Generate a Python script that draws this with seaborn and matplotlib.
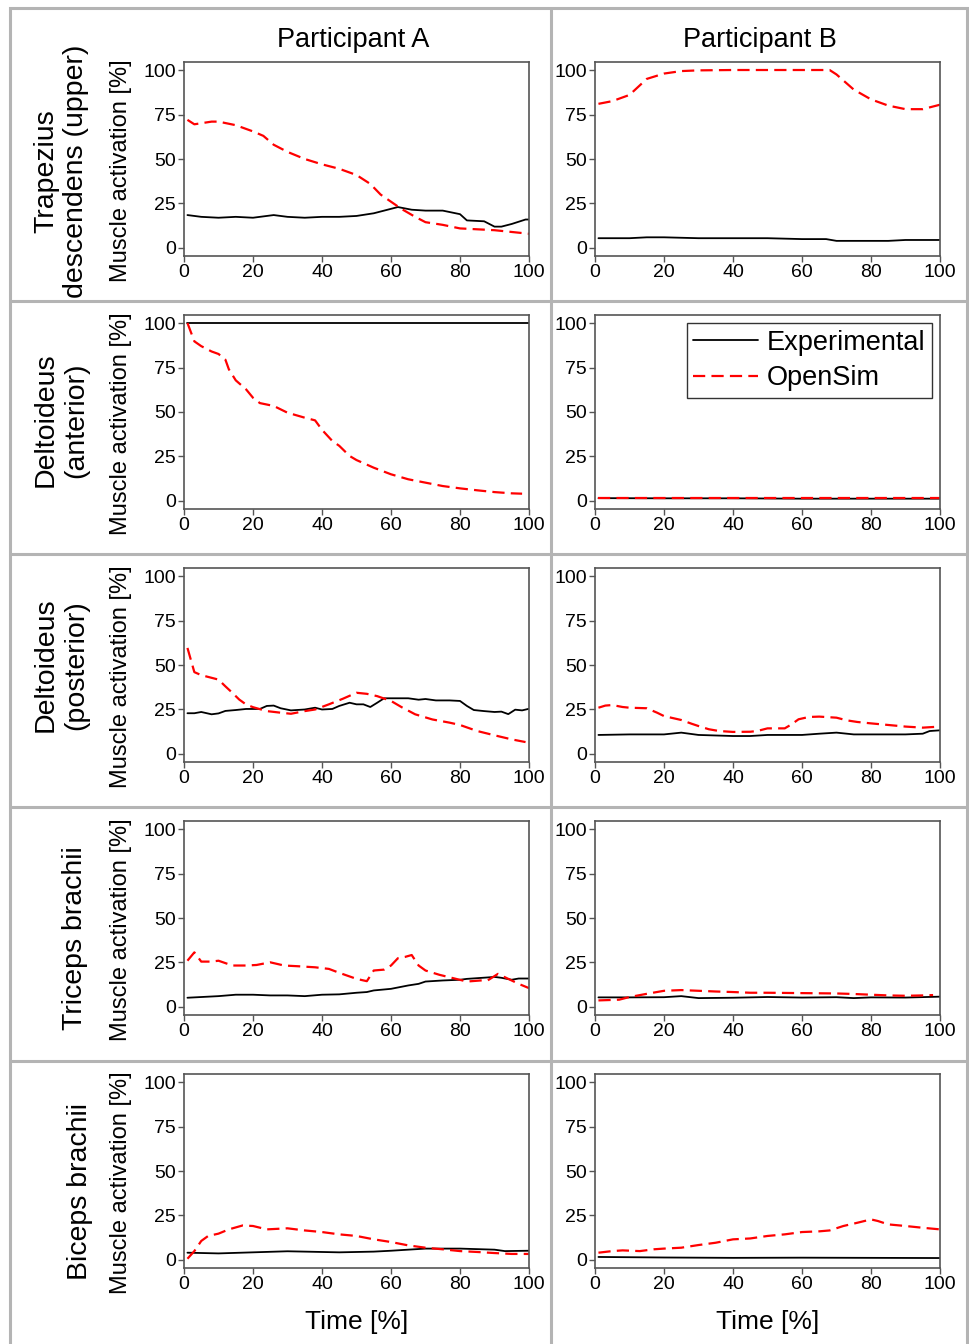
import numpy as np
import pandas as pd
import matplotlib
matplotlib.use("Agg")
import matplotlib.pyplot as plt
from matplotlib.lines import Line2D
from matplotlib.patches import Rectangle
import seaborn as sns

sns.set_theme(style="white")
plt.rcParams['font.family'] = ['Liberation Sans', 'DejaVu Sans']
plt.rcParams['text.color'] = 'black'
plt.rcParams['axes.labelcolor'] = 'black'

# ---------------- data ----------------
col_titles = ["Participant A", "Participant B"]
row_labels = ["Trapezius\ndescendens (upper)", "Deltoideus\n(anterior)",
              "Deltoideus\n(posterior)", "Triceps brachii", "Biceps brachii"]
x_ticks = [0, 20, 40, 60, 80, 100]
y_ticks = [0, 25, 50, 75, 100]

# Row 1: Trapezius descendens (upper)
tr_A_exp_t = [1, 5, 10, 15, 20, 26, 30, 35, 40, 45, 50, 55, 58, 62, 66, 70, 75, 80, 82, 87, 90, 92, 95, 99, 100]
tr_A_exp_v = [18.5, 17.5, 17, 17.5, 17, 18.5, 17.5, 17, 17.5, 17.5, 18, 19.5, 21, 23, 21.5, 21, 21, 19, 15.5, 15, 12, 12, 13.5, 16, 16]
tr_A_sim_t = [1, 3, 8, 10, 15, 20, 23, 26, 30, 35, 40, 45, 50, 54, 57, 60, 63, 67, 70, 75, 80, 85, 90, 95, 100]
tr_A_sim_v = [72, 69.5, 71, 71, 69, 65.5, 63, 58, 54, 50, 47, 44.5, 41, 36, 30, 26, 22, 17.5, 14.5, 13, 11, 10.5, 10, 9, 8]
tr_B_exp_t = [1, 10, 15, 20, 30, 40, 50, 60, 67, 70, 80, 85, 90, 100]
tr_B_exp_v = [5.5, 5.5, 6, 6, 5.5, 5.5, 5.5, 5, 5, 4, 4, 4, 4.5, 4.5]
tr_B_sim_t = [1, 5, 10, 15, 20, 25, 30, 40, 50, 60, 68, 70, 75, 80, 85, 90, 95, 100]
tr_B_sim_v = [81, 82.5, 86, 95, 98, 99.4, 99.8, 100, 100, 100, 100, 97.5, 89, 83.5, 80, 78, 78, 80.5]

# Row 2: Deltoideus (anterior)
da_A_exp_t = [1, 100]
da_A_exp_v = [100, 100]
da_A_sim_t = [1, 3, 5, 8, 10, 12, 13, 15, 18, 20, 22, 26, 30, 35, 38, 40, 43, 45, 48, 50, 55, 60, 65, 70, 75, 80, 85, 90, 95, 98]
da_A_sim_v = [100, 89.7, 87, 84, 82.6, 79.4, 74, 67.8, 62.7, 58, 55, 53.4, 49.6, 46.8, 45.3, 40, 33.7, 31, 25.3, 23, 18.7, 15, 12.2, 10.3, 8.4, 7.1, 6, 5, 4.3, 4.1]
da_B_exp_t = [1, 20, 40, 60, 80, 100]
da_B_exp_v = [1.6, 1.5, 1.5, 1.3, 1.3, 1.3]
da_B_sim_t = [1, 20, 40, 60, 80, 100]
da_B_sim_v = [1.6, 1.6, 1.6, 1.6, 1.6, 1.6]

# Row 3: Deltoideus (posterior)
dp_A_exp_t = [1, 3, 5, 8, 10, 12, 15, 18, 22, 24, 26, 28, 31, 35, 38, 40, 43, 45, 48, 50, 52, 54, 56, 58, 62, 65, 68, 70, 73, 77, 80, 82, 84, 87, 90, 92, 94, 96, 98, 100]
dp_A_exp_v = [22.9, 22.9, 23.6, 22.3, 22.8, 24.2, 24.7, 25.3, 25.3, 27, 27.2, 25.7, 24.5, 25, 26, 25, 25.3, 27, 28.8, 27.9, 27.9, 26.4, 28.8, 31.3, 31.3, 31.3, 30.5, 30.9, 30.1, 30.1, 29.8, 27, 24.7, 24.1, 23.6, 23.8, 22.4, 24.9, 24.5, 25.4]
dp_A_sim_t = [1, 3, 5, 8, 10, 12, 14, 16, 18, 20, 24, 28, 31, 35, 38, 42, 46, 50, 53, 56, 60, 63, 67, 72, 77, 80, 85, 90, 95, 99]
dp_A_sim_v = [59.6, 46, 44.3, 42.8, 41.8, 38, 34.4, 30.6, 27.8, 26.3, 24.1, 23.2, 22.6, 24.1, 25, 27.9, 31, 34.4, 33.8, 32.5, 29.8, 26.4, 22.3, 19.4, 17.6, 16.3, 12.9, 10.5, 8.2, 6.7]
dp_B_exp_t = [1, 10, 20, 25, 30, 40, 45, 50, 60, 65, 70, 75, 80, 90, 95, 97, 100]
dp_B_exp_v = [10.7, 11, 11, 12, 10.7, 10.1, 10.1, 10.7, 10.7, 11.4, 12, 11, 11, 11, 11.4, 12.9, 13.3]
dp_B_sim_t = [1, 3, 5, 8, 10, 15, 18, 20, 25, 28, 30, 33, 36, 40, 45, 47, 50, 55, 57, 59, 62, 65, 70, 73, 76, 80, 85, 90, 95, 100]
dp_B_sim_v = [26, 27.2, 27.5, 26.4, 26, 25.7, 23.2, 21.3, 19.1, 17, 15.7, 13.9, 12.9, 12.4, 12.5, 12.9, 14.4, 14.4, 16.7, 19.5, 20.8, 21, 20.4, 18.9, 18, 17.2, 16.3, 15.4, 14.8, 15.4]

# Row 4: Triceps brachii
tb_A_exp_t = [1, 10, 15, 20, 25, 30, 35, 40, 45, 50, 53, 55, 60, 65, 68, 70, 75, 80, 82, 85, 88, 90, 92, 95, 97, 100]
tb_A_exp_v = [5.2, 6.1, 6.9, 6.9, 6.5, 6.5, 6.1, 6.9, 7.1, 8, 8.4, 9.3, 10.2, 12.1, 13, 14.3, 14.9, 15.3, 15.8, 16.2, 16.6, 16.9, 16.4, 15.3, 16, 16]
tb_A_sim_t = [1, 3, 5, 8, 10, 14, 18, 21, 25, 29, 33, 38, 42, 45, 50, 53, 55, 58, 60, 62, 64, 66, 68, 70, 74, 78, 82, 86, 88, 91, 94, 97, 100]
tb_A_sim_v = [26, 30.7, 25.5, 25.5, 26, 23.3, 23.3, 23.6, 25.1, 23.3, 22.9, 22.3, 21.4, 19.2, 15.8, 14.5, 20.5, 21, 23.3, 27.4, 28.1, 29.2, 23.3, 20.5, 18.1, 16.2, 14.3, 14.9, 14.9, 18.6, 15.8, 13, 10.6]
tb_B_exp_t = [1, 10, 20, 25, 30, 40, 50, 60, 70, 75, 80, 90, 100]
tb_B_exp_v = [5.4, 5.4, 5.5, 6.1, 5, 5.2, 5.6, 5.3, 5.5, 5, 5.4, 5.3, 5.8]
tb_B_sim_t = [1, 7, 10, 15, 20, 25, 30, 35, 40, 45, 50, 60, 70, 75, 80, 85, 90, 95, 98]
tb_B_sim_v = [3.7, 4.1, 5.6, 7.4, 9.1, 9.5, 9.1, 8.7, 8.4, 8, 8, 7.8, 7.6, 7.3, 6.9, 6.5, 6.3, 6.5, 6.7]

# Row 5: Biceps brachii
bb_A_exp_t = [1, 10, 20, 30, 40, 45, 55, 60, 70, 80, 90, 93, 100]
bb_A_exp_v = [4.1, 3.7, 4.3, 4.9, 4.5, 4.3, 4.7, 5.2, 6.4, 6.4, 5.8, 5, 5.2]
bb_A_sim_t = [1, 3, 5, 7, 10, 13, 17, 20, 24, 30, 35, 40, 45, 50, 55, 60, 65, 70, 75, 80, 85, 90, 95, 100]
bb_A_sim_v = [0.7, 5, 10.7, 13.5, 14.8, 17.2, 19.4, 19.1, 17.2, 17.8, 16.6, 15.7, 14.4, 13.5, 11.6, 10.1, 8.2, 6.9, 6, 5, 4.5, 3.9, 3.4, 3.4]
bb_B_exp_t = [1, 20, 40, 60, 80, 100]
bb_B_exp_v = [1.7, 1.4, 1.2, 1.3, 1.2, 1.1]
bb_B_sim_t = [1, 5, 8, 13, 17, 20, 25, 30, 35, 40, 45, 50, 55, 60, 65, 68, 72, 76, 80, 82, 85, 90, 95, 100]
bb_B_sim_v = [4.1, 5, 5.4, 5, 6, 6.4, 6.9, 8.4, 9.7, 11.6, 12.1, 13.5, 14.4, 15.7, 16.1, 16.6, 19.1, 20.9, 22.8, 21.9, 20, 19.1, 18.1, 17.2]

panels = [
    [(tr_A_exp_t, tr_A_exp_v, tr_A_sim_t, tr_A_sim_v), (tr_B_exp_t, tr_B_exp_v, tr_B_sim_t, tr_B_sim_v)],
    [(da_A_exp_t, da_A_exp_v, da_A_sim_t, da_A_sim_v), (da_B_exp_t, da_B_exp_v, da_B_sim_t, da_B_sim_v)],
    [(dp_A_exp_t, dp_A_exp_v, dp_A_sim_t, dp_A_sim_v), (dp_B_exp_t, dp_B_exp_v, dp_B_sim_t, dp_B_sim_v)],
    [(tb_A_exp_t, tb_A_exp_v, tb_A_sim_t, tb_A_sim_v), (tb_B_exp_t, tb_B_exp_v, tb_B_sim_t, tb_B_sim_v)],
    [(bb_A_exp_t, bb_A_exp_v, bb_A_sim_t, bb_A_sim_v), (bb_B_exp_t, bb_B_exp_v, bb_B_sim_t, bb_B_sim_v)],
]

# ---------------- layout ----------------
W, H = 969, 1344
fig = plt.figure(figsize=(W / 100, H / 100), dpi=100)
fig.patch.set_facecolor("white")


def fx(x):
    return x / W


def fy(y):
    return 1 - y / H


grid_col = "#b4b4b4"
# table grid
fig.add_artist(Rectangle((fx(10), fy(1360)), fx(967) - fx(10), fy(8) - fy(1360),
                         transform=fig.transFigure, fill=False, edgecolor=grid_col, linewidth=2.2))
fig.add_artist(Line2D([fx(551), fx(551)], [fy(8), fy(1360)], transform=fig.transFigure,
                      color=grid_col, linewidth=2.2))
for yy in [301, 554, 807, 1061]:
    fig.add_artist(Line2D([fx(10), fx(967)], [fy(yy), fy(yy)], transform=fig.transFigure,
                          color=grid_col, linewidth=2.2))

row_tops = [62, 315, 568, 821, 1074]
ax_h = 194
col_lefts = [184, 595]
ax_w = 345

spine_col = "#555555"
tick_fs = 14
for r, top in enumerate(row_tops):
    for c, left in enumerate(col_lefts):
        ax = fig.add_axes([fx(left), fy(top + ax_h), ax_w / W, ax_h / H])
        et, ev, st, sv = panels[r][c]
        sns.lineplot(x=et, y=ev, ax=ax, color="black", linewidth=1.3,
                     label="Experimental", errorbar=None, legend=False)
        sns.lineplot(x=st, y=sv, ax=ax, color="#ff0000", linewidth=1.6,
                     linestyle=(0, (5.5, 2.8)), label="OpenSim", errorbar=None, legend=False)
        ax.set_xlim(0, 100)
        ax.set_ylim(-4.5, 104.5)
        ax.set_xticks(x_ticks)
        ax.set_yticks(y_ticks)
        ax.tick_params(axis="both", which="both", direction="out", length=4, width=1,
                       color=spine_col, labelsize=tick_fs, labelcolor="black", pad=2,
                       bottom=True, left=True, top=False, right=False)
        for sp in ax.spines.values():
            sp.set_color(spine_col)
            sp.set_linewidth(1.2)
        ax.set_xlabel("")
        if c == 0:
            ax.set_ylabel("Muscle activation [%]", fontsize=17, color="black")
            ax.yaxis.set_label_coords(-0.151, 0.44)
        else:
            ax.set_ylabel("")
        if r == 4:
            ax.set_xlabel("Time [%]", fontsize=19, labelpad=12, color="black")
        ax.set_facecolor("white")
        if r == 1 and c == 1:
            leg = ax.legend(loc="upper right", fontsize=19.5, frameon=True, fancybox=False,
                            edgecolor="black", borderaxespad=0.3, handlelength=2.4,
                            borderpad=0.25, labelspacing=0.35, handletextpad=0.3)
            leg.get_frame().set_linewidth(1.0)
            for t in leg.get_texts():
                t.set_color("black")

# column titles
fig.text(fx(353), fy(40), col_titles[0], fontsize=19.5, ha="center", va="center", color="black")
fig.text(fx(760), fy(40), col_titles[1], fontsize=19.5, ha="center", va="center", color="black")

# row labels
row_label_pos = [(61, 171), (61, 420), (61, 665), (75, 938), (80, 1191)]
for lab, (xx, yy) in zip(row_labels, row_label_pos):
    fig.text(fx(xx), fy(yy), lab, fontsize=20.5, rotation=90, ha="center", va="center",
             multialignment="center", linespacing=1.2, color="black")

fig.savefig("out.png", dpi=100, facecolor="white")
